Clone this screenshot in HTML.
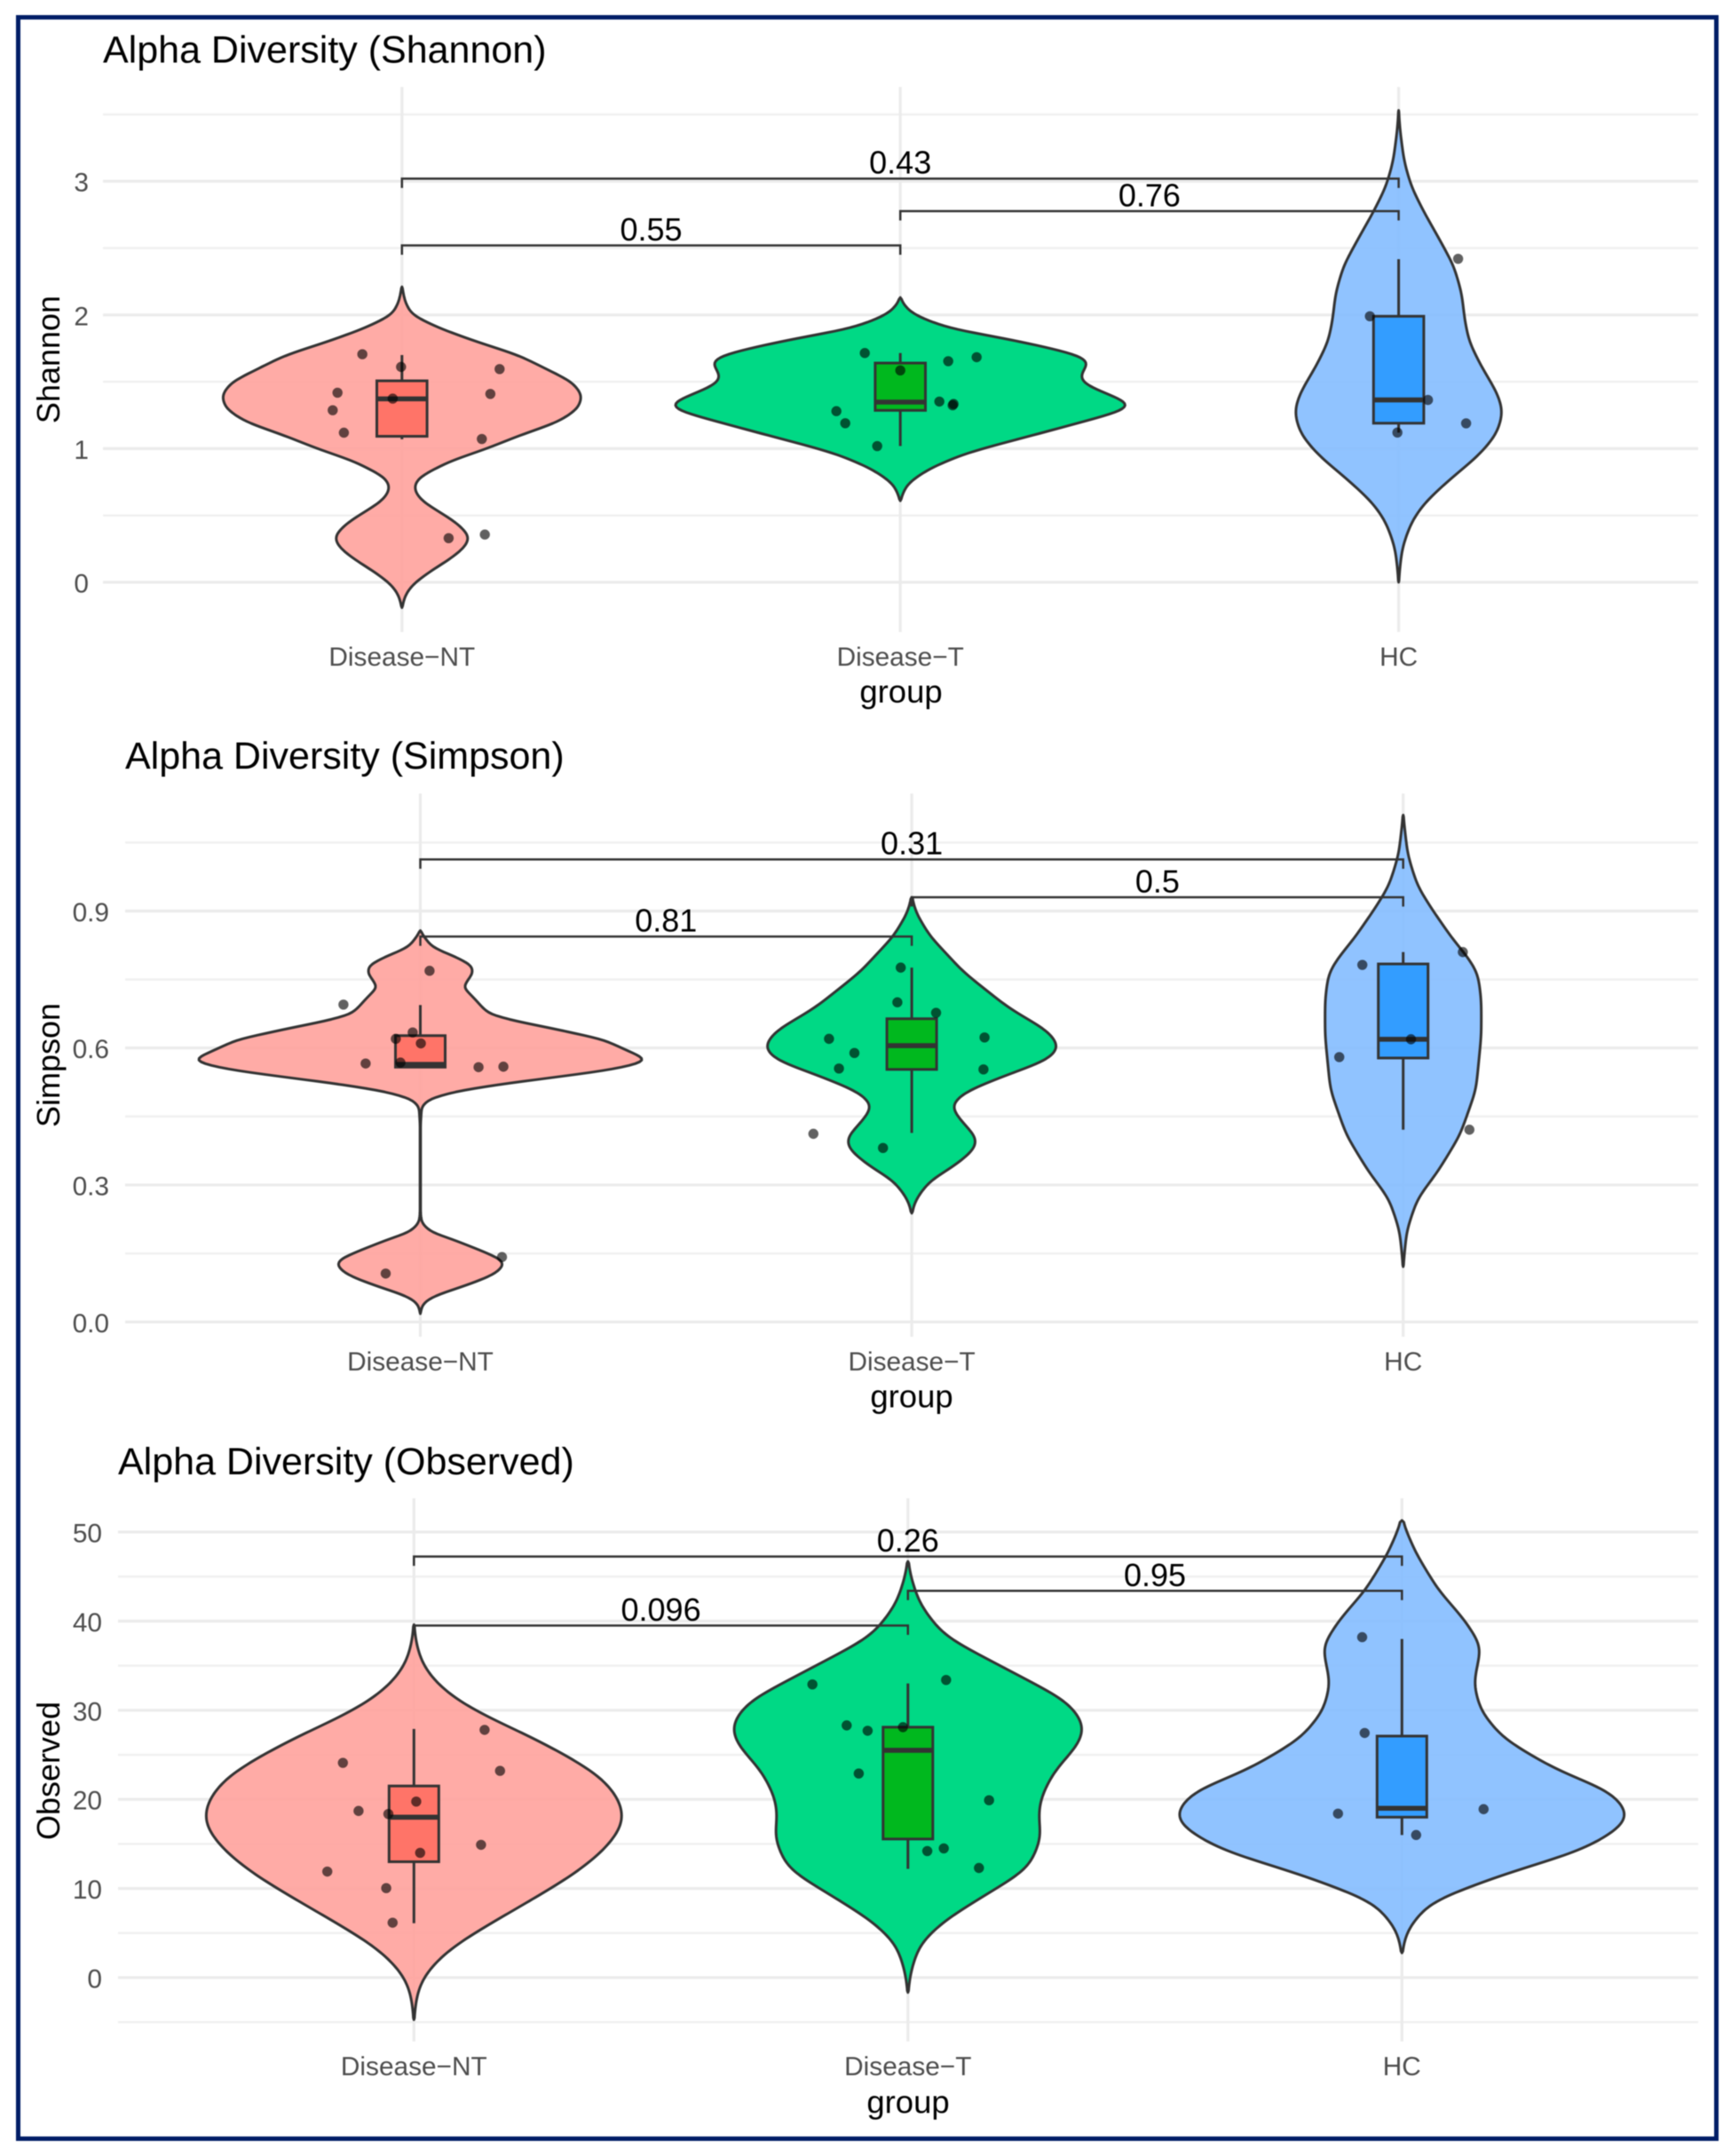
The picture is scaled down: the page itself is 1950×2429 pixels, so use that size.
<!DOCTYPE html>
<html lang="en">
<head>
<meta charset="utf-8">
<title>Alpha Diversity</title>
<style>
  html, body { margin: 0; padding: 0; background: #fff; }
  svg { display: block; font-family: "Liberation Sans", Arial, sans-serif; filter: blur(0.55px); }
  .title { font-size: 43px; fill: #000; }
  .axis-title { font-size: 36px; fill: #000; }
  .x-title { font-size: 36.5px; fill: #000; }
  .tick { font-size: 29.8px; fill: #4d4d4d; }
  .pval { font-size: 36px; fill: #000; text-anchor: middle; }
</style>
</head>
<body>
<svg id="figure" xmlns="http://www.w3.org/2000/svg" width="1950" height="2429" viewBox="0 0 1950 2429">
  <rect x="0" y="0" width="1950" height="2429" fill="#ffffff"/>
  <rect x="20.5" y="19.5" width="1913" height="2390" fill="#ffffff" stroke="#001d66" stroke-width="5"/>
  <g id="panel-shannon"></g>
  <g id="panel-simpson"></g>
  <g id="panel-observed"></g>
  <text class="title" x="116" y="70.5">Alpha Diversity (Shannon)</text>
  <text class="title" x="141" y="866">Alpha Diversity (Simpson)</text>
  <text class="title" x="133" y="1661">Alpha Diversity (Observed)</text>
  <text class="axis-title" text-anchor="middle" transform="translate(67 405) rotate(-90)">Shannon</text>
  <text class="axis-title" text-anchor="middle" transform="translate(67 1200) rotate(-90)">Simpson</text>
  <text class="axis-title" text-anchor="middle" transform="translate(67 1995) rotate(-90)">Observed</text>
  <text class="x-title" text-anchor="middle" x="1015" y="791.5">group</text>
  <text class="x-title" text-anchor="middle" x="1027" y="1585.5">group</text>
  <text class="x-title" text-anchor="middle" x="1023" y="2380.5">group</text>
</svg>
<script>
// ---------- shared categories ----------
const categories = ['Disease\u2212NT', 'Disease\u2212T', 'HC'];
const bracketPairs = [[0, 2], [1, 2], [0, 1]];

// ---------- Shannon data ----------
const shannonMajorTicks = [0, 1, 2, 3];
const shannonMinorTicks = [0.5, 1.5, 2.5, 3.5];
const shannonTickLabels = ['0', '1', '2', '3'];
const shannonPValues = ['0.43', '0.76', '0.55'];
const shannonBracketLevels = [3.02, 2.776, 2.52];

const shannonNTGrid = [-0.19,-0.15,-0.1,-0.05,0,0.05,0.1,0.15,0.2,0.25,0.3,0.35,0.4,0.45,0.5,0.55,0.6,0.65,0.7,0.75,0.8,0.85,0.9,1,1.1,1.2,1.3,1.4,1.5,1.6,1.7,1.8,1.9,2,2.1,2.2,2.21];
const shannonNTDensity = [0,0.75,1.75,4,7.5,12.5,18,24,29.5,34,37,37.5,34,30,24,18,12,8.5,6.75,7.5,11,19,25.5,47.5,66,87.5,98.5,100.75,95,80,65,41.5,21,5.5,1.65,0.25,0];
const shannonNTPoints = [1.706,1.611,1.595,1.418,1.409,1.374,1.287,1.119,1.072,0.33,0.357];
const shannonNTJitter = [-22.3,-0.5,55,-36.3,49.8,-5.2,-39,-32.7,45,26.3,46.7];
const shannonNTBox = [1.07,1.092,1.372,1.507,1.70];

const shannonTGrid = [0.61,0.65,0.7,0.75,0.85,0.95,1,1.1,1.2,1.25,1.3,1.33,1.4,1.45,1.5,1.55,1.6,1.65,1.7,1.75,1.8,1.85,1.9,1.95,2,2.05,2.1,2.13];
const shannonTDensity = [0,1,2.5,5,16,33,45,73,100,114,125,127,116,106,99.5,99,101.5,104,98.5,82.5,66.5,47,26,17,7.5,3.5,0.75,0];
const shannonTPoints = [1.715,1.684,1.654,1.585,1.352,1.334,1.324,1.28,1.19,1.019];
const shannonTJitter = [-20,43,27,0,22,30,29.5,-36,-31,-13];
const shannonTBox = [1.019,1.286,1.348,1.64,1.715];

const shannonHCGrid = [0,0.117,0.26,0.45,0.59,0.76,0.95,1.11,1.28,1.42,1.61,1.8,1.97,2.16,2.37,2.58,2.77,2.96,3.15,3.39,3.53];
const shannonHCDensity = [0,0.75,2,7,14,27.5,44.5,54.5,58,54.5,46,39,36.5,35,30.5,22,14,7,3,0.7,0];
const shannonHCPoints = [2.42,1.99,1.364,1.189,1.12];
const shannonHCJitter = [33.5,-16.2,16.5,38,-0.7];
const shannonHCBox = [1.12,1.19,1.364,1.99,2.417];

// ---------- Simpson data ----------
const simpsonMajorTicks = [0, 0.3, 0.6, 0.9];
const simpsonMinorTicks = [0.15, 0.45, 0.75, 1.05];
const simpsonTickLabels = ['0.0', '0.3', '0.6', '0.9'];
const simpsonPValues = ['0.31', '0.5', '0.81'];
const simpsonBracketLevels = [1.013, 0.93, 0.844];

const simpsonNTGrid = [0.018,0.034,0.047,0.06,0.073,0.089,0.106,0.125,0.138,0.154,0.18,0.196,0.209,0.219,0.238,0.433,0.469,0.475,0.488,0.504,0.52,0.537,0.55,0.563,0.574,0.582,0.618,0.64,0.66,0.673,0.686,0.708,0.728,0.734,0.75,0.763,0.78,0.796,0.809,0.822,0.841,0.857];
const simpsonNTDensity = [0,0.85,3.35,10,20,31.5,41.5,46.25,44,35,18.35,6.5,2.5,0.7,0.15,0.15,0.7,1.5,5,18.5,43.5,76.5,101.5,118.5,125,121.5,101.5,76.5,51.5,39,35,30,25,24,26.5,29,28.5,21.5,13.5,6.5,2.5,0];
const simpsonNTPoints = [0.695,0.769,0.634,0.62,0.61,0.566,0.568,0.558,0.559,0.142,0.106];
const simpsonNTJitter = [-43.3,5.2,-4.3,-13.8,0.3,-30.8,-11.2,32.8,46.8,46,-19.5];
const simpsonNTBox = [0.558,0.558,0.564,0.627,0.694];

const simpsonTGrid = [0.238,0.255,0.27,0.31,0.339,0.379,0.404,0.434,0.473,0.503,0.543,0.573,0.602,0.637,0.687,0.766,0.845,0.895,0.93];
const simpsonTDensity = [0,1,2.5,10,22.5,35,36,28.5,21,28.5,53.5,75,81.5,75,53.5,28.5,10,2.5,0];
const simpsonTPoints = [0.776,0.70,0.677,0.62,0.623,0.589,0.555,0.553,0.412,0.381];
const simpsonTJitter = [-6.2,-8.1,13.7,-46.6,41,-32.3,-41,40.4,-55.4,-16.2];
const simpsonTBox = [0.414,0.553,0.605,0.664,0.776];

const simpsonHCGrid = [0.121,0.2,0.27,0.329,0.409,0.508,0.627,0.706,0.766,0.806,0.835,0.905,0.955,1.024,1.11];
const simpsonHCDensity = [0,2,8,19.5,32,41,44,44,42,35,28.5,16,8,2.5,0];
const simpsonHCPoints = [0.81,0.782,0.619,0.58,0.421];
const simpsonHCJitter = [33.6,-23,4.4,-36,37.3];
const simpsonHCBox = [0.421,0.578,0.619,0.784,0.81];

// ---------- Observed data ----------
const observedMajorTicks = [0, 10, 20, 30, 40, 50];
const observedMinorTicks = [-5, 5, 15, 25, 35, 45];
const observedTickLabels = ['0', '10', '20', '30', '40', '50'];
const observedPValues = ['0.26', '0.95', '0.096'];
const observedBracketLevels = [47.25, 43.4, 39.5];

const observedNTGrid = [-4.73,-2.42,-0.64,0.96,3.27,5.77,8.61,11.64,14.3,16.8,17.9,20,22.5,24.4,27.1,29.3,31.2,33.2,35.3,37.8,39.6];
const observedNTDensity = [0,1.15,3.3,8.3,20,40,64.5,89.5,106,115.5,117,114.5,104.5,89.5,64.5,40,23.2,11.5,4.15,0.85,0];
const observedNTPoints = [27.8,24.1,23.2,19.75,18.7,18.36,14.9,14,11.9,10.04,6.16];
const observedNTJitter = [39.8,-40,48.5,1.3,-31.2,-14.4,37.8,3.5,-48.8,-15.6,-12];
const observedNTBox = [6.1,13,18,21.5,27.9];

const observedTGrid = [-1.67,0.68,3.8,6.4,9.55,12.16,15.8,17.9,20,23.1,26.3,28.3,31,34.3,38.3,41.9,45,46.7];
const observedTDensity = [0,1.5,6.5,20,45,66.5,74,72,73,80.5,95,98,88.5,57.5,20,6.5,1.5,0];
const observedTPoints = [32.9,33.4,28.3,27.7,28.1,22.9,19.9,14.2,14.5,12.3];
const observedTJitter = [-53.8,21.5,-34.5,-22.7,-2.8,-27.7,45.7,10.9,20.2,40];
const observedTBox = [12.2,15.55,25.5,28.1,33];

const observedHCGrid = [2.77,3.8,5.4,8.5,11.6,14.25,16.9,18.4,21,23.1,26.8,29.9,33,37.2,40.3,43.5,47.7,51.3];
const observedHCDensity = [0,1,3,15.5,56,99.5,121.5,125.5,115,87,56,43.5,39.5,44,34,20,7.5,0];
const observedHCPoints = [38.2,27.45,18.9,18.4,16];
const observedHCJitter = [-22.4,-21,46,-36,8];
const observedHCBox = [16,18,19,27.1,38];

// ---------- styling ----------
const violinFills = ['#ffa29c', '#00d985', '#84bdff'];
const violinOpacity = [0.9, 1, 0.9];
const boxFills = ['#ff7468', '#00b81e', '#339dff'];
const groupSlugs = ['disease-nt', 'disease-t', 'hc'];
const INK = '#333333';
const SVG_NS = 'http://www.w3.org/2000/svg';

function make(tag, parent, attrs) {
  const node = document.createElementNS(SVG_NS, tag);
  for (const key in attrs) node.setAttribute(key, attrs[key]);
  parent.appendChild(node);
  return node;
}

// KDE-style outline: sample the density along the value axis, Gaussian-smooth it, pin the tips to zero.
function kdeOutline(grid, density, yAxis, sigmaPx) {
  const yStart = yAxis(grid[0]);
  const yEnd = yAxis(grid[grid.length - 1]);
  const stepPx = 2;
  const n = Math.max(2, Math.ceil(Math.abs(yEnd - yStart) / stepPx));
  const raw = [];
  const ys = [];
  let seg = 0;
  for (let i = 0; i <= n; i++) {
    const v = grid[0] + (grid[grid.length - 1] - grid[0]) * i / n;
    while (seg < grid.length - 2 && v > grid[seg + 1]) seg++;
    const t = (v - grid[seg]) / (grid[seg + 1] - grid[seg]);
    raw.push(density[seg] + (density[seg + 1] - density[seg]) * t);
    ys.push(yAxis(v));
  }
  const pxStep = Math.abs(yEnd - yStart) / n;
  const radius = Math.ceil(3 * sigmaPx / pxStep);
  const kernel = [];
  let sum = 0;
  for (let k = -radius; k <= radius; k++) {
    const w = Math.exp(-0.5 * Math.pow(k * pxStep / sigmaPx, 2));
    kernel.push(w);
    sum += w;
  }
  const out = raw.map((_, i) => {
    let acc = 0;
    for (let k = -radius; k <= radius; k++) {
      const j = i + k;
      if (j >= 0 && j <= n) acc += raw[j] * kernel[k + radius];
    }
    return acc / sum;
  });
  const peakRaw = Math.max.apply(null, raw);
  const peakOut = Math.max.apply(null, out);
  const gain = peakRaw / peakOut;
  const widths = out.map(d => d * gain);
  widths[0] = 0;
  widths[n] = 0;
  return { ys: ys, widths: widths };
}

function drawPanel(cfg) {
  const root = document.getElementById(cfg.id);
  const xBand = i => cfg.firstCenter + i * cfg.band;
  const yAxis = v => cfg.yZero - v * cfg.yPerUnit;
  const widthOf = d => d * cfg.pxPerDensity;

  // gridlines
  cfg.minorTicks.forEach(t => {
    const el = make('line', root, { x1: cfg.left, x2: cfg.right, y1: yAxis(t), y2: yAxis(t), stroke: '#f0f0f0', 'stroke-width': 2.4 });
    
    
  });
  cfg.majorTicks.forEach((t, i) => {
    const el = make('line', root, { x1: cfg.left, x2: cfg.right, y1: yAxis(t), y2: yAxis(t), stroke: '#ebebeb', 'stroke-width': 3.2 });
    
    
    const label = make('text', root, { class: 'tick', x: cfg.tickRight, y: yAxis(t) + 11.5, 'text-anchor': 'end' });
    label.textContent = cfg.tickLabels[i];
    
    
  });
  categories.forEach((c, i) => {
    const el = make('line', root, { x1: xBand(i), x2: xBand(i), y1: cfg.top, y2: cfg.bottom, stroke: '#ebebeb', 'stroke-width': 3.2 });
    
    
    const label = make('text', root, { class: 'tick', x: xBand(i), y: cfg.bottom + 38, 'text-anchor': 'middle' });
    label.textContent = c;
    
    
  });

  // violins, boxes, points
  cfg.groups.forEach((g, i) => {
    const cx = xBand(i);
    const outline = kdeOutline(g.grid, g.density, yAxis, g.smooth);
    const rightSide = outline.ys.map((y, k) => (cx + widthOf(outline.widths[k])).toFixed(2) + ' ' + y.toFixed(2));
    const leftSide = outline.ys.map((y, k) => (cx - widthOf(outline.widths[k])).toFixed(2) + ' ' + y.toFixed(2)).reverse();
    const d = 'M' + rightSide.join('L') + 'L' + leftSide.join('L') + 'Z';
    const violin = make('path', root, { d: d, fill: violinFills[i], 'fill-opacity': violinOpacity[i], stroke: INK, 'stroke-width': 3, 'stroke-linejoin': 'round' });
    
    

    const lo = g.box[0], q1 = g.box[1], med = g.box[2], q3 = g.box[3], hi = g.box[4];
    const whisker = make('path', root, { d: 'M' + cx + ' ' + yAxis(hi) + 'V' + yAxis(q3) + 'M' + cx + ' ' + yAxis(q1) + 'V' + yAxis(lo), stroke: INK, 'stroke-width': 3, fill: 'none' });
    
    
    const box = make('rect', root, { x: cx - cfg.boxHalf, y: yAxis(q3), width: cfg.boxHalf * 2, height: yAxis(q1) - yAxis(q3), fill: boxFills[i], stroke: INK, 'stroke-width': 3 });
    
    
    const median = make('line', root, { x1: cx - cfg.boxHalf, x2: cx + cfg.boxHalf, y1: yAxis(med), y2: yAxis(med), stroke: INK, 'stroke-width': 5.6 });
    
    

    g.points.forEach((v, k) => {
      const dot = make('circle', root, { cx: cx + widthOf(g.jitter[k]), cy: yAxis(v), r: 5.7, fill: '#000000', 'fill-opacity': 0.62 });
      
      
    });
  });

  // significance brackets
  bracketPairs.forEach((pair, i) => {
    const x1 = xBand(pair[0]);
    const x2 = xBand(pair[1]);
    const yb = yAxis(cfg.bracketLevels[i]);
    const bracket = make('path', root, { d: 'M' + x1 + ' ' + (yb + 10.5) + 'V' + yb + 'H' + x2 + 'V' + (yb + 10.5), fill: 'none', stroke: INK, 'stroke-width': 2.5 });
    
    
    const label = make('text', root, { class: 'pval', x: (x1 + x2) / 2, y: yb - 5.5 });
    label.textContent = cfg.pValues[i];
    
    
  });
}

drawPanel({
  id: 'panel-shannon', left: 116, right: 1913, top: 98, bottom: 712,
  firstCenter: 452.8, band: 561.4, yZero: 656, yPerUnit: 150.6,
  pxPerDensity: 2, boxHalf: 28.3, tickRight: 100,
  majorTicks: shannonMajorTicks, minorTicks: shannonMinorTicks, tickLabels: shannonTickLabels,
  pValues: shannonPValues, bracketLevels: shannonBracketLevels,
  groups: [
    { grid: shannonNTGrid, density: shannonNTDensity, points: shannonNTPoints, jitter: shannonNTJitter, box: shannonNTBox, smooth: 5 },
    { grid: shannonTGrid, density: shannonTDensity, points: shannonTPoints, jitter: shannonTJitter, box: shannonTBox, smooth: 5 },
    { grid: shannonHCGrid, density: shannonHCDensity, points: shannonHCPoints, jitter: shannonHCJitter, box: shannonHCBox, smooth: 9 }
  ]
});

drawPanel({
  id: 'panel-simpson', left: 141, right: 1913, top: 894, bottom: 1506,
  firstCenter: 473.5, band: 553.6, yZero: 1489.3, yPerUnit: 514.4,
  pxPerDensity: 2, boxHalf: 28, tickRight: 123,
  majorTicks: simpsonMajorTicks, minorTicks: simpsonMinorTicks, tickLabels: simpsonTickLabels,
  pValues: simpsonPValues, bracketLevels: simpsonBracketLevels,
  groups: [
    { grid: simpsonNTGrid, density: simpsonNTDensity, points: simpsonNTPoints, jitter: simpsonNTJitter, box: simpsonNTBox, smooth: 3 },
    { grid: simpsonTGrid, density: simpsonTDensity, points: simpsonTPoints, jitter: simpsonTJitter, box: simpsonTBox, smooth: 7 },
    { grid: simpsonHCGrid, density: simpsonHCDensity, points: simpsonHCPoints, jitter: simpsonHCJitter, box: simpsonHCBox, smooth: 9 }
  ]
});

drawPanel({
  id: 'panel-observed', left: 133, right: 1913, top: 1688, bottom: 2300,
  firstCenter: 466.3, band: 556.5, yZero: 2228, yPerUnit: 10.04,
  pxPerDensity: 2, boxHalf: 28, tickRight: 115,
  majorTicks: observedMajorTicks, minorTicks: observedMinorTicks, tickLabels: observedTickLabels,
  pValues: observedPValues, bracketLevels: observedBracketLevels,
  groups: [
    { grid: observedNTGrid, density: observedNTDensity, points: observedNTPoints, jitter: observedNTJitter, box: observedNTBox, smooth: 12 },
    { grid: observedTGrid, density: observedTDensity, points: observedTPoints, jitter: observedTJitter, box: observedTBox, smooth: 11 },
    { grid: observedHCGrid, density: observedHCDensity, points: observedHCPoints, jitter: observedHCJitter, box: observedHCBox, smooth: 10 }
  ]
});
</script>
</body>
</html>
